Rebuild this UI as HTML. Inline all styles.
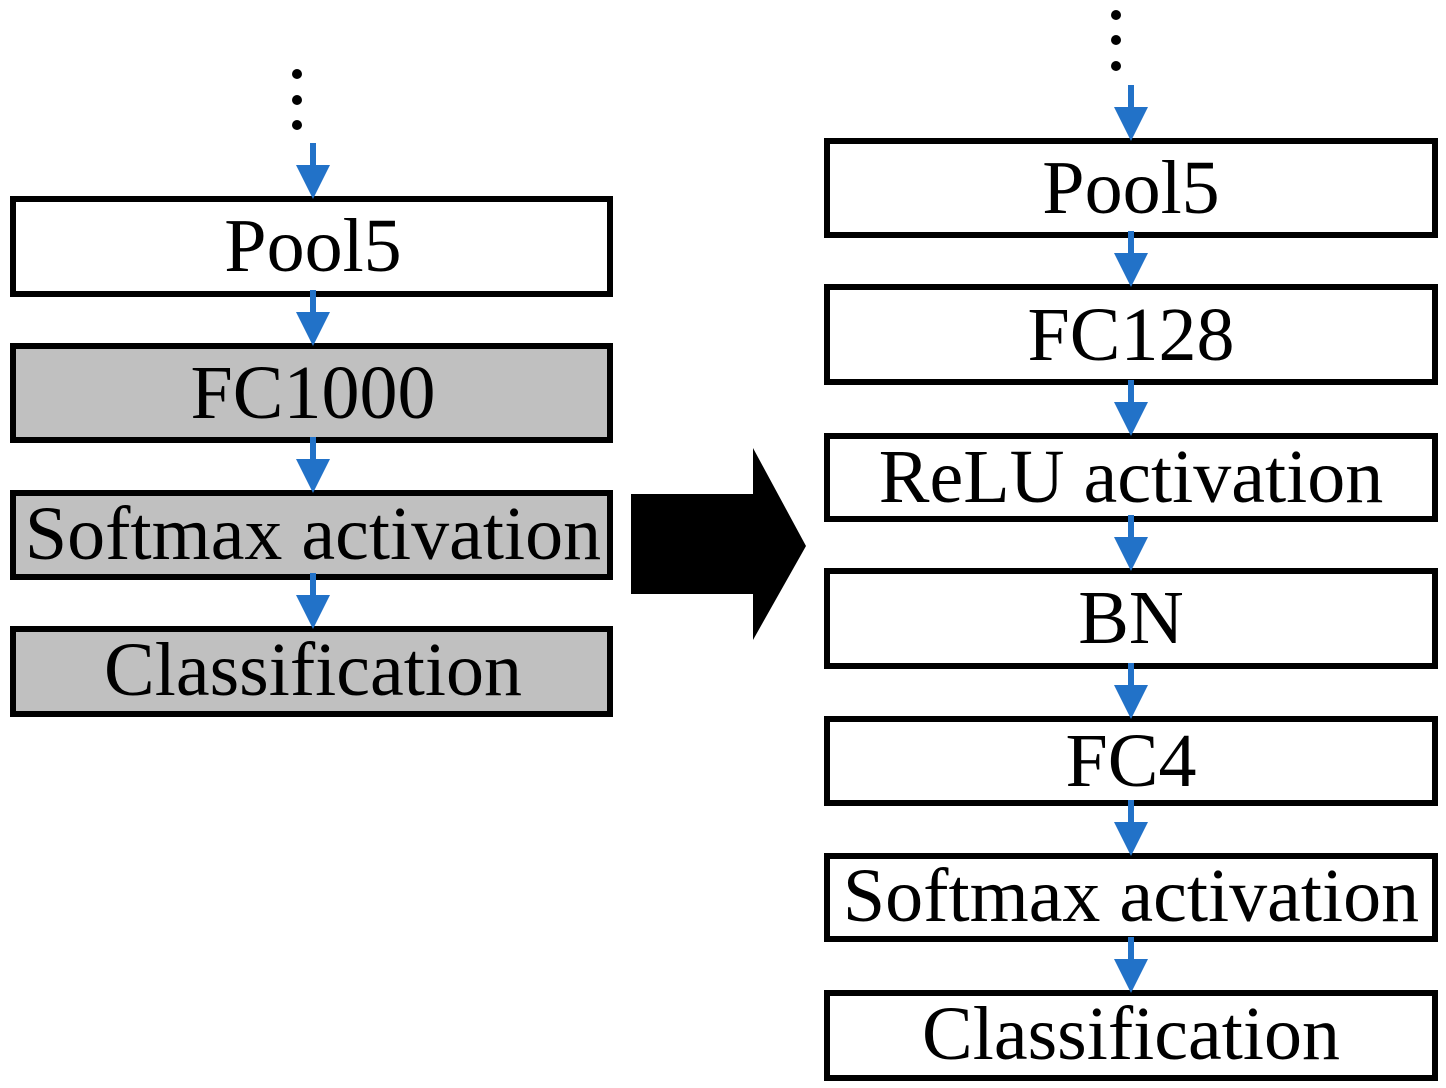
<!DOCTYPE html>
<html><head><style>
body{margin:0;background:#fff;}
svg{display:block;}
text{font-family:"Liberation Serif",serif;font-size:76px;fill:#000;text-anchor:middle;}
</style></head><body>
<svg width="1446" height="1088" viewBox="0 0 1446 1088">
<defs>
<g id="ar"><rect x="-3" y="0" width="6" height="24" fill="#2272c8"/><polygon points="-17,22 17,22 0,56" fill="#2272c8"/></g>
</defs>
<g fill="#000">
<circle cx="297" cy="74" r="5"/><circle cx="297" cy="100" r="5"/><circle cx="297" cy="125" r="5"/>
<circle cx="1116" cy="15" r="5"/><circle cx="1116" cy="40" r="5"/><circle cx="1116" cy="66" r="5"/>
</g>
<g stroke="#000" stroke-width="6">
<rect x="13" y="199" width="597" height="95" fill="#fff"/>
<rect x="13" y="346" width="597" height="94" fill="#c0c0c0"/>
<rect x="13" y="493" width="597" height="84" fill="#c0c0c0"/>
<rect x="13" y="629" width="597" height="85" fill="#c0c0c0"/>
<rect x="827" y="141" width="608" height="94" fill="#fff"/>
<rect x="827" y="287" width="608" height="95" fill="#fff"/>
<rect x="827" y="436" width="608" height="83" fill="#fff"/>
<rect x="827" y="571" width="608" height="95" fill="#fff"/>
<rect x="827" y="719" width="608" height="84" fill="#fff"/>
<rect x="827" y="856" width="608" height="83" fill="#fff"/>
<rect x="827" y="993" width="608" height="85" fill="#fff"/>
</g>
<use href="#ar" x="313" y="143"/>
<use href="#ar" x="313" y="290"/>
<use href="#ar" x="313" y="437"/>
<use href="#ar" x="313" y="573"/>
<use href="#ar" x="1131" y="85"/>
<use href="#ar" x="1131" y="231"/>
<use href="#ar" x="1131" y="380"/>
<use href="#ar" x="1131" y="515"/>
<use href="#ar" x="1131" y="663"/>
<use href="#ar" x="1131" y="800"/>
<use href="#ar" x="1131" y="937"/>
<polygon points="631,494 753,494 753,448 806,546 753,640 753,594 631,594" fill="#000"/>
<text x="313" y="271">Pool5</text>
<text x="313" y="418">FC1000</text>
<text x="313" y="559">Softmax activation</text>
<text x="313" y="695">Classification</text>
<text x="1131" y="213">Pool5</text>
<text x="1131" y="360">FC128</text>
<text x="1131" y="502">ReLU activation</text>
<text x="1131" y="643">BN</text>
<text x="1131" y="786">FC4</text>
<text x="1131" y="921">Softmax activation</text>
<text x="1131" y="1059">Classification</text>
</svg>
</body></html>
